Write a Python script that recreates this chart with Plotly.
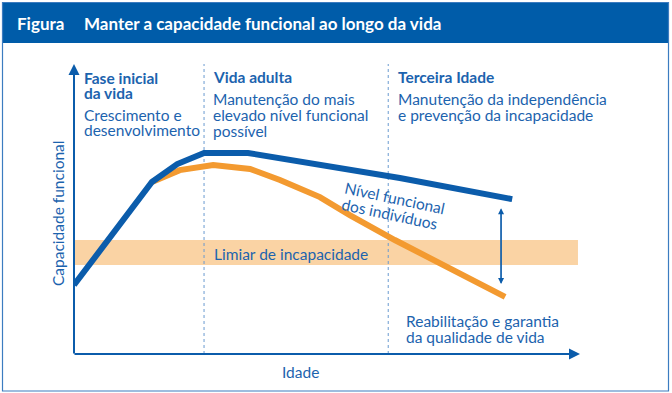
import plotly.graph_objects as go

# --- data (age units 0..100, capacity units 0..100) ---
blue_x = [0, 15.4, 20.4, 25.7, 34.4, 64.4, 86.6]
blue_y = [23.8, 59.3, 65.5, 69.3, 69.3, 60.7, 53.4]
orange_x = [15.4, 20.9, 27.5, 34.8, 40.7, 48.6, 54.5, 63.4, 85.2]
orange_y = [59.3, 63.4, 65.2, 63.8, 60.0, 54.1, 47.9, 39.3, 19.7]
band_y = [30.7, 39.3]
band_x_end = 99.6
phase_x = [25.7, 62.1]
gap_x = 84.4
gap_y = [50.3, 24.1]

BLUE = "#0B5CAB"
BAR = "#005CA9"
TXT = "#1C63AE"
ORANGE = "#F39A30"
BAND = "#FAD3A4"
FONT = "Lato"

W, H = 672, 393
L, R, T, B = 74, 580, 64, 354
def px(p):  # pixel x -> paper
    return (p - L) / (R - L)
def py(q):  # pixel y -> paper
    return (B - q) / (B - T)

fig = go.Figure()
fig.add_trace(go.Scatter(x=orange_x, y=orange_y, mode="lines",
                         line=dict(color=ORANGE, width=6), hoverinfo="skip"))
fig.add_trace(go.Scatter(x=blue_x, y=blue_y, mode="lines",
                         line=dict(color=BLUE, width=6), hoverinfo="skip"))

shapes = []
shapes.append(dict(type="rect", xref="x", yref="y", x0=0, x1=band_x_end, y0=band_y[0], y1=band_y[1],
                   fillcolor=BAND, line=dict(width=0), layer="below"))
for xv in phase_x:
    shapes.append(dict(type="line", xref="x", yref="y", x0=xv, x1=xv, y0=0, y1=100,
                       line=dict(color="#6A9AD0", width=1, dash="dot"), layer="below"))
shapes.append(dict(type="rect", xref="paper", yref="paper", x0=px(2.5), x1=px(668.5),
                   y0=py(43), y1=py(2.5), fillcolor=BAR, line=dict(width=0)))
shapes.append(dict(type="rect", xref="paper", yref="paper", x0=px(2.5), x1=px(668.5),
                   y0=py(391), y1=py(2.5), fillcolor="rgba(0,0,0,0)",
                   line=dict(color="#3C7CC0", width=1.2)))

ann = []
ann.append(dict(x=0, y=100, xref="x", yref="y", ax=0, ay=B - T + 1, axref="pixel", ayref="pixel",
                showarrow=True, arrowhead=2, arrowsize=1.1, arrowwidth=2, arrowcolor=BLUE, text=""))
ann.append(dict(x=100, y=0, xref="x", yref="y", ax=-(R - L + 1), ay=0,
                showarrow=True, arrowhead=2, arrowsize=1.1, arrowwidth=2, arrowcolor=BLUE, text=""))
ann.append(dict(x=gap_x, y=gap_y[0], ax=gap_x, ay=gap_y[1], xref="x", yref="y", axref="x", ayref="y",
                showarrow=True, arrowhead=2, arrowsize=1, arrowwidth=1.2, arrowcolor=BLUE, text=""))
ann.append(dict(x=gap_x, y=gap_y[1], ax=gap_x, ay=gap_y[0], xref="x", yref="y", axref="x", ayref="y",
                showarrow=True, arrowhead=2, arrowsize=1, arrowwidth=1.2, arrowcolor=BLUE, text=""))

def txt(text, xp, yc, size=15.5, bold=False, color=TXT, xanchor="left", angle=0):
    t = f"<b>{text}</b>" if bold else text
    ann.append(dict(text=t, x=px(xp), y=py(yc), xref="paper", yref="paper", showarrow=False,
                    xanchor=xanchor, yanchor="middle", textangle=angle, borderpad=0,
                    font=dict(family=FONT, size=size, color=color)))

# title (y = visual centre)
txt("Figura", 16, 24, size=17, bold=True, color="white")
txt("Manter a capacidade funcional ao longo da vida", 83, 24, size=17, bold=True, color="white")
# phase texts: y values are baseline - 5
txt("Fase inicial", 83, 78, bold=True)
txt("da vida", 83, 93, bold=True)
txt("Crescimento e", 83, 115)
txt("desenvolvimento", 83, 130)
txt("Vida adulta", 212, 77, bold=True)
txt("Manutenção do mais", 212, 99)
txt("elevado nível funcional", 212, 115)
txt("possível", 212, 131)
txt("Terceira Idade", 397, 77, bold=True)
txt("Manutenção da independência", 397, 99)
txt("e prevenção da incapacidade", 397, 115)
txt("Limiar de incapacidade", 213, 254)
txt("Nível funcional", 395, 198, xanchor="center", angle=12)
txt("dos indivíduos", 390, 214, xanchor="center", angle=12)
txt("Reabilitação e garantia", 405, 321)
txt("da qualidade de vida", 405, 337)
txt("Idade", 300, 372, xanchor="center")
txt("Capacidade funcional", 58, 214, xanchor="center", angle=-90)

fig.update_layout(
    width=W, height=H, margin=dict(l=L, r=W - R, t=T, b=H - B),
    paper_bgcolor="white", plot_bgcolor="white", showlegend=False,
    xaxis=dict(range=[0, 100], visible=False, fixedrange=True),
    yaxis=dict(range=[0, 100], visible=False, fixedrange=True),
    shapes=shapes, annotations=ann,
)
fig.write_html("out.html", config={"displayModeBar": False},
               post_script="document.body.style.margin='0';document.body.style.padding='0';")
